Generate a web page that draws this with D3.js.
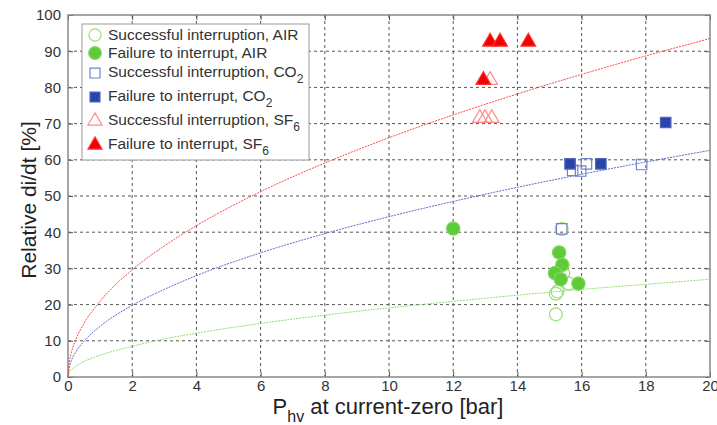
<!doctype html>
<html>
<head>
<meta charset="utf-8">
<style>
  body { margin: 0; background: #fff; }
  svg text { font-family: "Liberation Sans", Arial, sans-serif; }
  .grid line { stroke: #555; stroke-dasharray: 3,3; stroke-width: 1; }
  .tick-lbl { fill: #333; font-size: 15px; }
</style>
</head>
<body>
<svg width="717" height="425"></svg>
<script src="https://d3js.org/d3.v7.min.js"></script>
<script>
  // tick values
  var xTicks = [0, 2, 4, 6, 8, 10, 12, 14, 16, 18, 20];
  var yTicks = [0, 10, 20, 30, 40, 50, 60, 70, 80, 90, 100];

  // measured points [P_hv, relative di/dt]
  var airSuccess = [[15.2, 23.0], [15.25, 23.6], [15.2, 17.3], [15.43, 28.7], [15.6, 25.8], [15.38, 40.9]];
  var airFailure = [[12.0, 41.0], [15.3, 34.4], [15.4, 31.0], [15.17, 28.7], [15.35, 27.0], [15.9, 25.8]];
  var co2Success = [[15.38, 40.9], [16.15, 58.9], [15.72, 57.1], [15.97, 56.9], [17.87, 58.7]];
  var co2Failure = [[15.64, 58.9], [16.6, 58.9], [18.62, 70.3]];
  var sf6Success = [[13.15, 82.0], [12.83, 71.5], [12.99, 71.5], [13.2, 71.5]];
  var sf6Failure = [[13.15, 92.6], [13.46, 92.6], [14.34, 92.6], [12.94, 82.0]];

  // fitted curves
  var fitX   = [0, 0.05, 0.1, 0.25, 0.5, 1, 2, 3, 4, 6, 8, 10, 12, 14, 16, 18, 20];
  var fitSF6 = [0, 4.7, 6.6, 10.5, 14.8, 20.9, 29.6, 36.2, 41.8, 51.2, 59.1, 66.1, 72.4, 78.2, 83.6, 88.7, 93.5];
  var fitCO2 = [0, 3.1, 4.4, 7.0, 9.9, 14.0, 19.8, 24.2, 28.0, 34.3, 39.6, 44.3, 48.5, 52.4, 56.0, 59.4, 62.6];
  var fitAIR = [0, 1.35, 1.9, 3.0, 4.3, 6.0, 8.5, 10.5, 12.1, 14.8, 17.1, 19.1, 20.9, 22.6, 24.2, 25.6, 27.0];

  var svg = d3.select("svg");
  var pL = 68, pR = 710, pT = 15, pB = 377;

  var x = d3.scaleLinear().domain([0, 20]).range([pL, pR]);
  var y = d3.scaleLinear().domain([0, 100]).range([pB, pT]);

  // grid
  var grid = svg.append("g").attr("class", "grid");
  grid.selectAll(".gx").data(xTicks.slice(1, -1)).enter().append("line")
    .attr("x1", d => x(d)).attr("x2", d => x(d))
    .attr("y1", pT).attr("y2", pB);
  grid.selectAll(".gy").data(yTicks.slice(1, -1)).enter().append("line")
    .attr("x1", pL).attr("x2", pR)
    .attr("y1", d => y(d)).attr("y2", d => y(d));

  // axes (inward ticks like matlab)
  var gx = svg.append("g").attr("transform", "translate(0," + pB + ")")
    .call(d3.axisBottom(x).tickValues(xTicks).tickSize(-5).tickPadding(3));
  var gy = svg.append("g").attr("transform", "translate(" + pL + ",0)")
    .call(d3.axisLeft(y).tickValues(yTicks).tickSize(-5).tickPadding(7));
  svg.append("g").attr("transform", "translate(0," + pT + ")")
    .call(d3.axisTop(x).tickValues(xTicks).tickSize(-5).tickFormat(""));
  svg.append("g").attr("transform", "translate(" + pR + ",0)")
    .call(d3.axisRight(y).tickValues(yTicks).tickSize(-5).tickFormat(""));
  svg.selectAll(".domain").remove();
  svg.selectAll(".tick line").attr("stroke", "#555");
  gx.selectAll("text").attr("class", "tick-lbl").attr("font-size", null).attr("font-family", null);
  gy.selectAll("text").attr("class", "tick-lbl").attr("font-size", null).attr("font-family", null);

  // frame
  svg.append("rect").attr("x", pL).attr("y", pT)
    .attr("width", pR - pL).attr("height", pB - pT)
    .attr("fill", "none").attr("stroke", "#888").attr("stroke-width", 1.5);

  // fit curves
  var line = d3.line().x(d => x(d[0])).y(d => y(d[1])).curve(d3.curveMonotoneX);
  [[fitAIR, "#8fe070"], [fitCO2, "#5a6cd0"], [fitSF6, "#ff4a4a"]].forEach(function (c) {
    svg.append("path")
      .datum(fitX.map((v, i) => [v, c[0][i]]))
      .attr("d", line)
      .attr("fill", "none")
      .attr("stroke", c[1])
      .attr("stroke-width", 1)
      .attr("stroke-dasharray", "2,1");
  });

  // markers
  var series = [
    { data: airSuccess, shape: d3.symbolCircle, size: 130, fill: "none", stroke: "#9ddc80" },
    { data: airFailure, shape: d3.symbolCircle, size: 140, fill: "#5fcb38", stroke: "#7fd860" },
    { data: co2Success, shape: d3.symbolSquare, size: 110, fill: "none", stroke: "#7183cc" },
    { data: co2Failure, shape: d3.symbolSquare, size: 110, fill: "#2a45a8", stroke: "#5066bb" },
    { data: sf6Success, shape: d3.symbolTriangle, size: 95, fill: "none", stroke: "#ff8a8a" },
    { data: sf6Failure, shape: d3.symbolTriangle, size: 95, fill: "#f50000", stroke: "#ff3030" }
  ];
  series.forEach(function (s) {
    svg.append("g").selectAll("path").data(s.data).enter().append("path")
      .attr("transform", d => "translate(" + x(d[0]) + "," + y(d[1]) + ")")
      .attr("d", d3.symbol().type(s.shape).size(s.size))
      .attr("fill", s.fill)
      .attr("stroke", s.stroke)
      .attr("stroke-width", 1.2);
  });

  // legend
  var legendLabels = [
    ["Successful interruption, AIR", ""],
    ["Failure to interrupt, AIR", ""],
    ["Successful interruption, CO", "2"],
    ["Failure to interrupt, CO", "2"],
    ["Successful interruption, SF", "6"],
    ["Failure to interrupt, SF", "6"]
  ];
  var legendY = [35, 53, 72, 96, 120, 144];
  var lg = svg.append("g");
  lg.append("rect").attr("x", 82).attr("y", 24).attr("width", 227).attr("height", 136)
    .attr("fill", "#fff").attr("stroke", "#999").attr("stroke-width", 1);
  legendLabels.forEach(function (l, i) {
    var s = series[i];
    lg.append("path")
      .attr("transform", "translate(95," + (legendY[i] + (i >= 2 ? 1 : 0)) + ")")
      .attr("d", d3.symbol().type(s.shape).size(s.size * 0.9))
      .attr("fill", s.fill).attr("stroke", s.stroke).attr("stroke-width", 1.2);
    var t = lg.append("text").attr("x", 108).attr("y", legendY[i] + 5)
      .attr("fill", "#333").attr("font-size", "15.5px").text(l[0]);
    if (l[1]) t.append("tspan").attr("dy", 6).attr("font-size", "12px").text(l[1]);
  });

  // axis labels
  var xl = svg.append("text").attr("x", 388).attr("y", 414).attr("text-anchor", "middle")
    .attr("font-size", "22px").attr("fill", "#222");
  xl.append("tspan").text("P");
  xl.append("tspan").attr("dy", 8).attr("font-size", "16px").text("hv");
  xl.append("tspan").attr("dy", -8).text(" at current-zero [bar]");

  svg.append("text").attr("transform", "translate(36,200) rotate(-90)")
    .attr("text-anchor", "middle").attr("font-size", "21px").attr("fill", "#222")
    .text("Relative di/dt [%]");
</script>
</body>
</html>
